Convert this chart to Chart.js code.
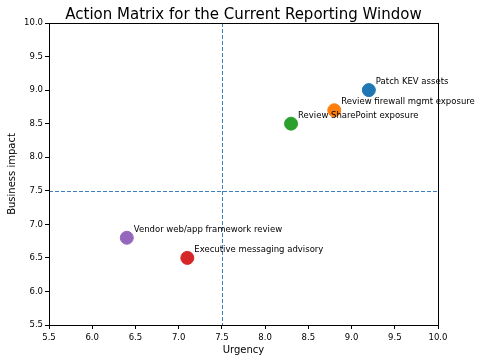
<!DOCTYPE html>
<html>
<head>
  <meta charset="UTF-8">
  <title>Action Matrix</title>
  <script src="https://cdn.jsdelivr.net/npm/chart.js"></script>
  <style>
    body { margin: 0; padding: 0; background: #fff; }
    #wrap { width: 482px; height: 362px; }
  </style>
</head>
<body>
  <div id="wrap"><canvas id="matrixChart"></canvas></div>
  <script>
    // chart data
    var chartTitle = 'Action Matrix for the Current Reporting Window';
    var actions = ['Patch KEV assets', 'Review firewall mgmt exposure', 'Review SharePoint exposure',
      'Vendor web/app framework review', 'Executive messaging advisory'];
    var urgency = [9.2, 8.8, 8.3, 6.4, 7.1];
    var impact = [9.0, 8.7, 8.5, 6.8, 6.5];
    var pointColors = ['#1f77b4', '#ff7f0e', '#2ca02c', '#9467bd', '#d62728'];
    var urgencyCut = 7.5;
    var impactCut = 7.5;

    var FONT = 'DejaVu Sans';

    // title over the plot, dashed quadrant lines, frame and point labels
    var matrixPlugin = {
      id: 'matrix',
      beforeDatasetsDraw: function (chart) {
        var ctx = chart.ctx, a = chart.chartArea;
        var xs = chart.scales.x, ys = chart.scales.y;
        ctx.save();
        ctx.fillStyle = '#000';
        ctx.font = '15px "' + FONT + '"';
        ctx.textAlign = 'center';
        ctx.textBaseline = 'alphabetic';
        ctx.fillText(chartTitle, (a.left + a.right) / 2, a.top - 4);

        ctx.strokeStyle = '#3d7fbf';
        ctx.lineWidth = 1;
        ctx.setLineDash([4, 2]);
        var px = Math.round(xs.getPixelForValue(urgencyCut)) + 0.5;
        var py = Math.round(ys.getPixelForValue(impactCut)) + 0.5;
        ctx.beginPath();
        ctx.moveTo(px, a.top); ctx.lineTo(px, a.bottom);
        ctx.moveTo(a.left, py); ctx.lineTo(a.right, py);
        ctx.stroke();
        ctx.restore();
      },
      afterDatasetsDraw: function (chart) {
        var ctx = chart.ctx, a = chart.chartArea;
        var xs = chart.scales.x, ys = chart.scales.y;
        ctx.save();
        ctx.strokeStyle = '#000';
        ctx.lineWidth = 1;
        ctx.strokeRect(Math.round(a.left) + 0.5, Math.round(a.top) + 0.5,
          Math.round(a.right - a.left), Math.round(a.bottom - a.top));
        ctx.fillStyle = '#000';
        ctx.font = '8.5px "' + FONT + '"';
        ctx.textBaseline = 'middle';
        ctx.textAlign = 'left';
        for (var i = 0; i < actions.length; i++) {
          var x = xs.getPixelForValue(urgency[i]);
          var y = ys.getPixelForValue(impact[i]);
          ctx.fillText(actions[i], x + 7, y - 8);
        }
        ctx.restore();
      }
    };

    var axisStyle = function (title, size, pad) {
      return {
        type: 'linear',
        min: 5.5,
        max: 10,
        ticks: {
          stepSize: 0.5,
          color: '#000',
          font: { family: FONT, size: 8.5 },
          padding: pad,
          callback: function (v) { return v.toFixed(1); }
        },
        grid: { display: true, drawOnChartArea: false, drawTicks: true, tickLength: 4, color: '#000' },
        border: { display: true, color: '#000' },
        title: { display: true, text: title, color: '#000', font: { family: FONT, size: 10 }, padding: 0 },
        afterFit: size
      };
    };

    var ctx = document.getElementById('matrixChart').getContext('2d');
    var matrixChart = new Chart(ctx, {
      type: 'scatter',
      data: {
        datasets: [{
          data: urgency.map(function (u, i) { return { x: u, y: impact[i] }; }),
          backgroundColor: pointColors,
          borderColor: pointColors,
          pointRadius: 6.5,
          pointHoverRadius: 6.5
        }]
      },
      options: {
        responsive: true,
        maintainAspectRatio: false,
        animation: false,
        layout: { padding: { left: 6, right: 44, top: 23, bottom: 6 } },
        plugins: {
          legend: { display: false },
          tooltip: { enabled: false },
          title: { display: false }
        },
        scales: {
          x: axisStyle('Urgency', function (s) { s.height = 31; }, 4),
          y: axisStyle('Business impact', function (s) { s.width = 43; }, 2)
        }
      },
      plugins: [matrixPlugin]
    });
  </script>
</body>
</html>
